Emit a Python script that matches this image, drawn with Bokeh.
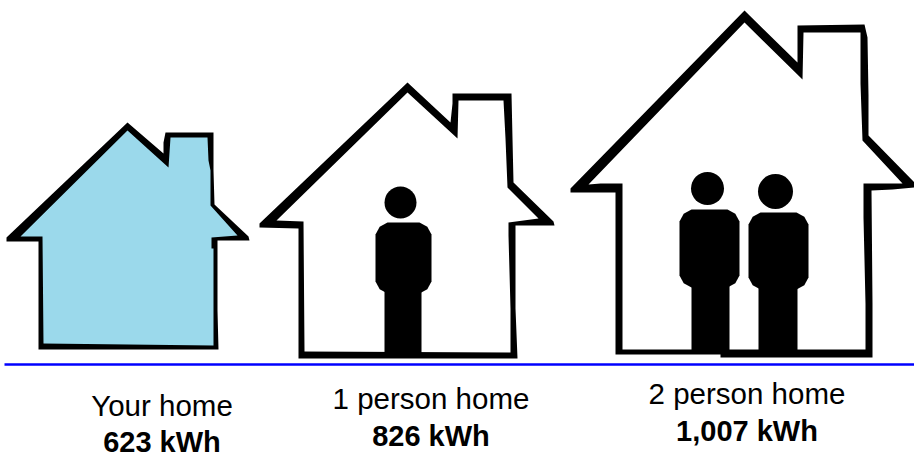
from bokeh.core.properties import value
from bokeh.embed import file_html
from bokeh.models import Range1d
from bokeh.plotting import figure
from bokeh.resources import INLINE

# Category captions and their usage figures
categories = ["Your home", "1 person home", "2 person home"]
usage_labels = ["623 kWh", "826 kWh", "1,007 kWh"]
caption_x = [161.5, 430.5, 746.5]
caption_y = [404.5, 397.5, 392.5]
usage_y = [441.5, 435.5, 430.5]

# House outlines, in page units (y grows downward)
your_outer_x = [127, 163, 163, 165, 213, 213, 214, 248, 249, 217, 217, 218, 38, 38, 6, 6]
your_outer_y = [122, 153, 142, 132, 132, 170, 204, 236, 240, 240, 310, 349, 349, 241, 241, 237]
your_inner_x = [127, 168, 170, 207, 208, 210, 210, 237, 211, 211, 213, 213, 213, 43, 42, 20]
your_inner_y = [130, 167, 137, 137, 160, 170, 205, 235, 237, 248, 248, 310, 345, 343, 236, 236]

one_outer_x = [407, 450, 452, 452, 511, 512, 513, 553, 554, 515, 515, 517, 298, 298, 259, 259]
one_outer_y = [82, 122, 103, 93, 93, 138, 182, 221, 225, 225, 308, 358, 358, 228, 227, 223]
one_inner_x = [407, 457, 458, 503, 505, 507, 538, 508, 508, 510, 510, 304, 303, 276]
one_inner_y = [92, 138, 100, 100, 138, 187, 218, 222, 235, 308, 352, 351, 221, 220]

two_outer_x = [744, 797, 797, 864, 867, 868, 868, 914, 914, 892, 871, 872, 872, 720, 720, 615, 615, 580, 570, 570]
two_outer_y = [10, 62, 25, 24, 37, 95, 135, 182, 187, 189, 190, 303, 357, 357, 354, 354, 192, 192, 192, 188]
two_inner_x = [744, 802, 803, 860, 860, 862, 902, 863, 863, 865, 865, 622, 622, 600, 588]
two_inner_y = [22, 79, 32, 32, 83, 140, 183, 183, 217, 303, 349, 349, 183, 183, 184]

# Figures standing inside the houses
head_x = [400, 707, 775]
head_y = [202, 188, 191]
head_r = [16, 16.5, 17.5]
body_left = [375, 679, 748]
body_right = [431, 739, 808]
body_top = [222, 209, 212]
body_bottom = [293, 287, 289]
leg_left = [384, 691, 758]
leg_right = [421, 729, 797]
leg_bottom = [353, 351, 351]

BLACK = "#000000"
SKY = "#9BD9EB"
BLUE = "#0000FF"
FONT = value("Liberation Sans")

p = figure(width=914, height=456, output_backend="svg", toolbar_location=None,
           x_range=Range1d(0, 914), y_range=Range1d(456, 0),
           min_border=0, outline_line_color=None, background_fill_color="white",
           border_fill_color="white")
p.axis.visible = False
p.grid.visible = False

# Each house is a black silhouette with its interior laid over it
p.patch(your_outer_x, your_outer_y, fill_color=BLACK, line_color=None)
p.patch(your_inner_x, your_inner_y, fill_color=SKY, line_color=None)
p.patch(one_outer_x, one_outer_y, fill_color=BLACK, line_color=None)
p.patch(one_inner_x, one_inner_y, fill_color="white", line_color=None)
p.patch(two_outer_x, two_outer_y, fill_color=BLACK, line_color=None)
p.patch(two_inner_x, two_inner_y, fill_color="white", line_color=None)


def rounded_box(left, right, top, bottom, r=12):
    """Torso outline: a rectangle whose corners are eased in two steps."""
    a, b = 0.35 * r, r
    xs = [left + b, right - b, right - a, right, right, right - a,
          right - b, left + b, left + a, left, left, left + a]
    ys = [top, top, top + a, top + b, bottom - b, bottom - a,
          bottom, bottom, bottom - a, bottom - b, top + b, top + a]
    return xs, ys


for i in range(len(head_x)):
    xs, ys = rounded_box(body_left[i], body_right[i], body_top[i], body_bottom[i])
    p.patch(xs, ys, fill_color=BLACK, line_color=None)
    p.quad(left=[leg_left[i]], right=[leg_right[i]], top=[body_bottom[i] - 5],
           bottom=[leg_bottom[i]], fill_color=BLACK, line_color=None)
    p.ellipse([head_x[i]], [head_y[i]], width=2 * head_r[i], height=2 * head_r[i],
              fill_color=BLACK, line_color=None)

# Ground line under the houses
p.segment([4], [364], [914], [364], line_color=BLUE, line_width=2.5)

p.text(caption_x, caption_y, text=categories, text_font=FONT, text_font_size="29.5px",
       text_align="center", text_baseline="middle", text_color=BLACK, text_line_height=0.9)
p.text(caption_x, usage_y, text=usage_labels, text_font=FONT, text_font_size="29px",
       text_font_style="bold", text_align="center", text_baseline="middle",
       text_color=BLACK, text_line_height=0.9)

open("out.html", "w").write(file_html(p, INLINE))
